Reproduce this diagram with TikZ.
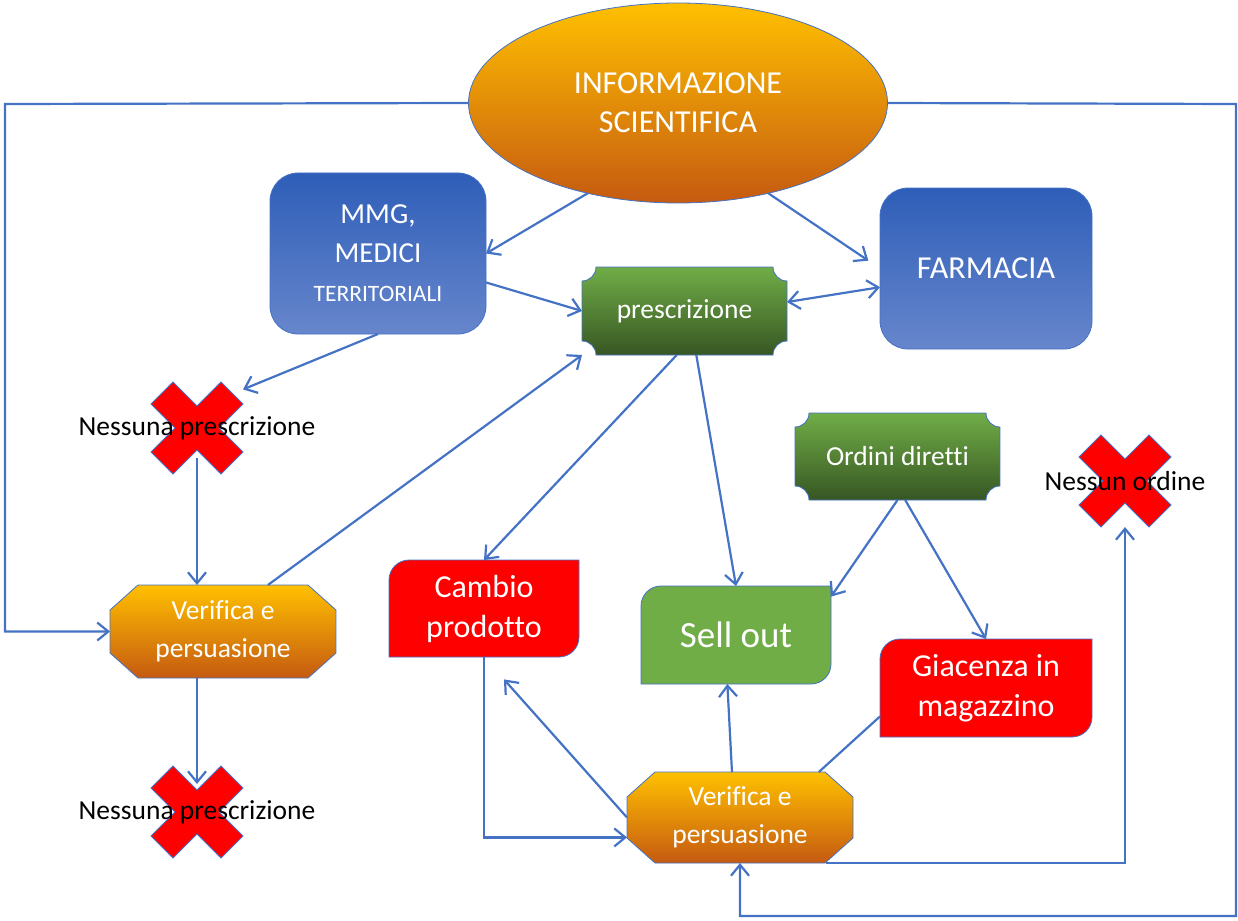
\documentclass[tikz,border=0pt]{standalone}
\usepackage{fontspec}
\setmainfont[Ligatures=NoCommon]{Carlito}
\usetikzlibrary{arrows.meta,shapes.geometric,backgrounds}

\definecolor{lnblue}{HTML}{4472C4}
\definecolor{orgtop}{HTML}{FFC000}
\definecolor{orgbot}{HTML}{C55A11}
\definecolor{blutop}{HTML}{2E5EB8}
\definecolor{blubot}{HTML}{6786CC}
\definecolor{grntop}{HTML}{70AD47}
\definecolor{grnbot}{HTML}{375623}
\definecolor{redfill}{HTML}{FF0000}

\tikzset{
  >={Straight Barb[length=11pt,width=18pt]},
  conn/.style={->, draw=lnblue, line width=2.2pt},
  box/.style={inner sep=0pt, outer sep=0pt, text=white, align=center},
  bluebox/.style={box, rectangle, rounded corners=28pt, draw=lnblue, line width=0.8pt,
    top color=blutop, bottom color=blubot},
  xspot/.style={inner sep=0pt, outer sep=0pt, minimum size=92pt},
  lbltxt/.style={text=black, font=\fontsize{27.5}{33}\selectfont},
  xmark/.style={fill=redfill, draw=lnblue, line width=0.8pt},
  shapeline/.style={draw=lnblue, line width=0.8pt}
}

% contorno a "targa" (angoli concavi)
\newcommand\plaque[1]{%
  \shadedraw[shapeline, top color=grntop, bottom color=grnbot]
    ([xshift=14pt]#1.north west) -- ([xshift=-14pt]#1.north east)
    arc[start angle=180, end angle=270, radius=14pt] -- ([yshift=14pt]#1.south east)
    arc[start angle=90, end angle=180, radius=14pt] -- ([xshift=14pt]#1.south west)
    arc[start angle=0, end angle=90, radius=14pt] -- ([yshift=-14pt]#1.north west)
    arc[start angle=270, end angle=360, radius=14pt] -- cycle;}
% ottagono
\newcommand\octbox[1]{%
  \shadedraw[shapeline, top color=orgtop, bottom color=orgbot]
    ([xshift=28pt]#1.north west) -- ([xshift=-28pt]#1.north east)
    -- ([yshift=-25pt]#1.north east) -- ([yshift=25pt]#1.south east)
    -- ([xshift=-28pt]#1.south east) -- ([xshift=28pt]#1.south west)
    -- ([yshift=25pt]#1.south west) -- ([yshift=-25pt]#1.north west) -- cycle;}
% rettangolo con angoli diagonali arrotondati
\newcommand\rdbox[2]{%
  \filldraw[shapeline, fill=#2]
    ([yshift=-20pt]#1.north west) arc[start angle=180, end angle=90, radius=20pt]
    -- (#1.north east) -- ([yshift=20pt]#1.south east)
    arc[start angle=0, end angle=-90, radius=20pt] -- (#1.south west) -- cycle;}
% croce rossa
\newcommand\redx[1]{%
  \filldraw[xmark, shift={(#1.center)}] (-46,24) -- (-24,46) -- (0,22) -- (24,46)
    -- (46,24) -- (22,0) -- (46,-24) -- (24,-46) -- (0,-22) -- (-24,-46)
    -- (-46,-24) -- (-22,0) -- cycle;}

\begin{document}
\begin{tikzpicture}[x=1pt, y=1pt]
    \useasboundingbox (0,0) rectangle (1238,-920);

    % nodi
    \node[box, ellipse, minimum width=419pt, minimum height=200pt, draw=lnblue, line width=0.8pt,
      top color=orgtop, bottom color=orgbot, font=\fontsize{32}{39}\selectfont]
      (info) at (678,-103) {INFORMAZIONE\\SCIENTIFICA};
    \node[bluebox, minimum width=216pt, minimum height=161pt, font=\fontsize{29}{39}\selectfont]
      (mmg) at (378,-253.5) {MMG,\\MEDICI\\{\fontsize{23.5}{39}\selectfont TERRITORIALI}};
    \node[bluebox, minimum width=212pt, minimum height=161pt, font=\fontsize{32}{39}\selectfont]
      (farm) at (986,-268.5) {FARMACIA};
    \node[box, minimum width=205pt, minimum height=88pt, font=\fontsize{27.5}{33}\selectfont]
      (pre) at (684.5,-311) {prescrizione};
    \node[box, minimum width=205pt, minimum height=87pt, font=\fontsize{27.5}{33}\selectfont]
      (ord) at (897.5,-456.5) {Ordini diretti};
    \node[box, minimum width=226pt, minimum height=93pt, font=\fontsize{27.5}{38}\selectfont]
      (ver1) at (223,-631.5) {Verifica e\\persuasione};
    \node[box, minimum width=226pt, minimum height=91pt, font=\fontsize{27.5}{38}\selectfont]
      (ver2) at (740,-817.5) {Verifica e\\persuasione};
    \node[box, minimum width=190pt, minimum height=97pt, font=\fontsize{32}{40}\selectfont]
      (cambio) at (484,-608.5) {Cambio\\prodotto};
    \node[box, minimum width=190pt, minimum height=98pt, font=\fontsize{37}{44}\selectfont]
      (sell) at (736,-635) {Sell out};
    \node[box, minimum width=212pt, minimum height=98pt, font=\fontsize{32}{40}\selectfont]
      (giac) at (986,-688) {Giacenza in\\magazzino};

    \node[xspot, label={[lbltxt]center:Nessuna prescrizione}] (x1) at (197,-428) {};
    \node[xspot, label={[lbltxt]center:Nessuna prescrizione}] (x2) at (197,-812) {};
    \node[xspot, label={[lbltxt]center:Nessun ordine}] (x3) at (1125,-481) {};

    \coordinate (lft) at (5,-104);
    \coordinate (rgt) at (1236,-104);
    \coordinate (rgtb) at (1236,-916);

    % forme sullo sfondo
    \begin{scope}[on background layer]
        \plaque{pre}
        \plaque{ord}
        \octbox{ver1}
        \octbox{ver2}
        \rdbox{cambio}{redfill}
        \rdbox{giac}{redfill}
        \rdbox{sell}{grntop}
        \redx{x1}
        \redx{x2}
        \redx{x3}
    \end{scope}

    % frecce
    \draw[conn] (info.225) -- (mmg.east);
    \draw[conn, shorten >=14pt] (info.315) -- (farm.west);
    \draw[conn] (mmg.-15) -- (pre.west);
    \draw[conn, <->] (pre.5) -- (farm.190);
    \draw[conn] (mmg.south) -- (x1.40);
    \draw[conn] ([yshift=16pt]x1.south) -- (x1 |- ver1.north);
    \draw[conn] (ver1.46) -- (pre.south west);
    \draw[conn] (x2 |- ver1.south) -- ([yshift=-18pt]x2.north);
    \draw[conn] (info.west) -- (lft) |- (ver1.west);
    \draw[conn] (info.east) -- (rgt) -- (rgtb) -| (ver2.south);
    \draw[conn] (pre.260) -- (cambio.north);
    \draw[conn] (pre.285) -- (sell.north);
    \draw[conn] (ord.south) -- (sell.22);
    \draw[conn] (ord.-80) -- (giac.north);
    \draw[conn] (cambio.south) |- (ver2.190);
    \draw[conn, shorten >=30pt] (ver2.west) -- (cambio.south);
    \draw[conn] (ver2.100) -- (sell.260);
    \draw[conn, -] (ver2.30) -- (giac.195);
    \draw[conn] (ver2.-28) -| (x3.south);
\end{tikzpicture}
\end{document}
